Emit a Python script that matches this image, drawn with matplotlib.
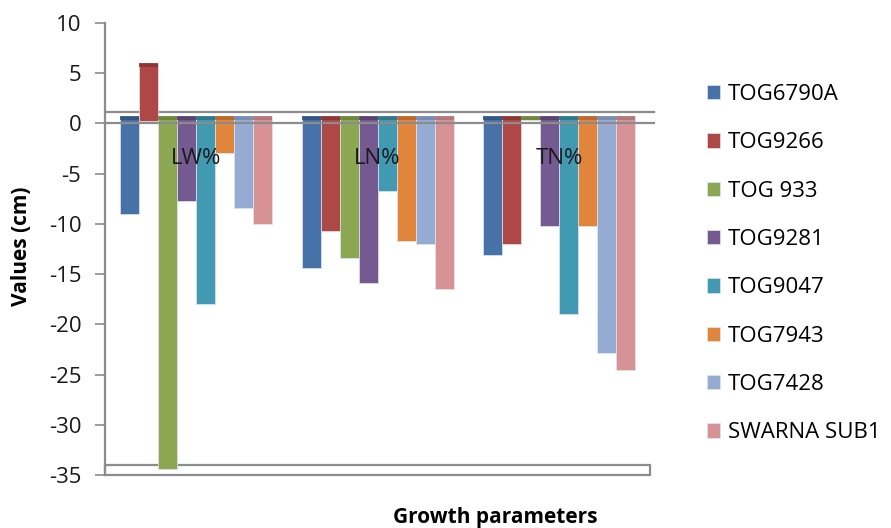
import numpy as np
import matplotlib
matplotlib.use("Agg")
import matplotlib.pyplot as plt
from matplotlib.patches import Rectangle

plt.rcParams['font.family'] = ['Open Sans', 'DejaVu Sans']
plt.rcParams['axes.unicode_minus'] = False

# Datos
parametros = ["LW%", "LN%", "TN%"]
variedades = ["TOG6790A", "TOG9266", "TOG 933", "TOG9281",
              "TOG9047", "TOG7943", "TOG7428", "SWARNA SUB1"]
valores = {
    "TOG6790A":    [-9.0, -14.4, -13.1],
    "TOG9266":     [6.0, -10.7, -12.0],
    "TOG 933":     [-34.4, -13.4, 0.35],
    "TOG9281":     [-7.7, -15.9, -10.2],
    "TOG9047":     [-18.0, -6.7, -19.0],
    "TOG7943":     [-2.9, -11.7, -10.2],
    "TOG7428":     [-8.4, -12.0, -22.9],
    "SWARNA SUB1": [-10.0, -16.5, -24.5],
}
colores = ["#4672a8", "#ae4846", "#8ba752", "#755a91",
           "#4299b2", "#e2853c", "#95abd2", "#d69294"]
colores_tapa = ["#2f5380", "#8a3331", "#6a8338", "#563f6e",
                "#2c7488", "#b8652a", "#7288b0", "#b07274"]

fig = plt.figure(figsize=(8.91, 5.28), dpi=100)
ax = fig.add_axes([0.1178, 0.1004, 0.6117, 0.856])

x = np.arange(len(parametros))
ancho = 0.1047

for i, nombre in enumerate(variedades):
    v = np.array(valores[nombre])
    pos = x - 0.5 + 0.0826 + ancho * (i + 0.5)
    # base estilo "3D" de Excel: negativos bajan desde el piso, positivos suben
    positivo = v > 0.5
    base = np.where(positivo, 0.25, 0.75)
    ax.bar(pos, v - base, bottom=base, width=ancho, color=colores[i],
           edgecolor="#dfe6ef", linewidth=0.5, label=nombre, zorder=3)
    # tapa oscura (cara superior)
    ax.bar(pos, np.where(positivo, 0.4, -0.4),
           bottom=np.where(positivo, v - 0.4, 0.75), width=ancho,
           color=colores_tapa[i], linewidth=0, zorder=4, alpha=0.85)

# lineas del piso y caja inferior
ax.plot([-0.5, 2.52], [1.1, 1.1], color="#8c8c8c", lw=1.6, zorder=2, clip_on=False)
ax.plot([-0.5, 2.52], [0, 0], color="#8c8c8c", lw=1.6, zorder=5, clip_on=False)
ax.add_patch(Rectangle((-0.5, -35), 3.0, 1.0, fill=False, edgecolor="#8c8c8c",
                       lw=1.6, zorder=2, clip_on=False))

for xi, p in zip(x, parametros):
    ax.text(xi, -3.5, p, ha="center", va="center", fontsize=16, color="#1a1a1a", zorder=6)

ax.set_xlim(-0.5, 2.5)
ax.set_ylim(-35, 10)
ax.set_yticks(np.arange(-35, 11, 5))
ax.set_xticks([])
ax.tick_params(axis="y", labelsize=16, length=7, width=1.2, color="#8c8c8c",
               labelcolor="#1a1a1a", direction="out", pad=10)
for s in ["top", "right", "bottom"]:
    ax.spines[s].set_visible(False)
ax.spines["left"].set_color("#8c8c8c")
ax.spines["left"].set_linewidth(1.6)

fig.text(22 / 891, 1 - 246 / 528, "Values (cm)", rotation=90, ha="center", va="center",
         fontsize=15, fontweight="bold")
fig.text(495 / 891, 1 - 518 / 528, "Growth parameters", ha="center", va="center",
         fontsize=15, fontweight="bold")

fig.legend(loc="upper left", bbox_to_anchor=(687 / 891, 1 - 64 / 528),
           frameon=False, fontsize=16, handlelength=0.6, handleheight=0.6,
           labelspacing=1.23, handletextpad=0.35)

fig.savefig("out.png", dpi=100)
